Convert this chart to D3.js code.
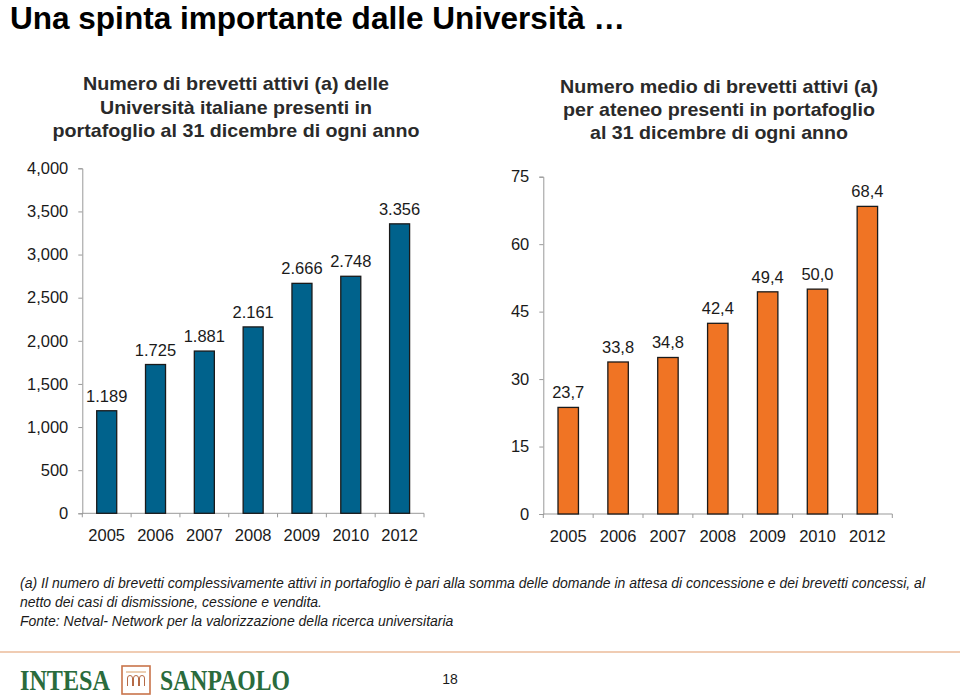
<!DOCTYPE html>
<html><head><meta charset="utf-8">
<script src="https://cdn.jsdelivr.net/npm/d3@7"></script>
<style>
body{margin:0;background:#fff}
svg{display:block}
</style></head>
<body>
<svg id="c" width="960" height="697"></svg>
<script>
const years = ["2005","2006","2007","2008","2009","2010","2012"];
const patents = [1189,1725,1881,2161,2666,2748,3356];
const patentLabels = ["1.189","1.725","1.881","2.161","2.666","2.748","3.356"];
const avgPerUni = [23.7,33.8,34.8,42.4,49.4,50.0,68.4];
const avgLabels = ["23,7","33,8","34,8","42,4","49,4","50,0","68,4"];
const leftTicks = [0,500,1000,1500,2000,2500,3000,3500,4000];
const leftTickLabels = ["0","500","1,000","1,500","2,000","2,500","3,000","3,500","4,000"];
const rightTicks = [0,15,30,45,60,75];
const rightTickLabels = ["0","15","30","45","60","75"];

const svg = d3.select("#c");
const SANS = "'Liberation Sans', Arial, sans-serif";

// Title
svg.append("text").attr("x",10).attr("y",28.5)
  .attr("font-family",SANS).attr("font-weight","bold").attr("font-size",31)
  .attr("textLength",615).attr("lengthAdjust","spacingAndGlyphs")
  .attr("fill","#000").text("Una spinta importante dalle Università …");

// Subtitles
const sub = (cx, ys, lines) => {
  lines.forEach(([l,w],i)=>svg.append("text").attr("x",cx).attr("y",ys[i])
    .attr("text-anchor","middle").attr("font-family",SANS).attr("font-weight","bold").attr("font-size",19)
    .attr("textLength",w).attr("lengthAdjust","spacingAndGlyphs")
    .attr("fill","#2a2a2a").text(l));
};
sub(236, [90,113.5,136.5], [["Numero di brevetti attivi (a) delle",306],["Università italiane presenti in",272],["portafoglio al 31 dicembre di ogni anno",367]]);
sub(719, [92.5,115.5,138.5], [["Numero medio di brevetti attivi (a)",318],["per ateneo presenti in portafoglio",312],["al 31 dicembre di ogni anno",258]]);

function chart(opts){
  const {x0,x1,yTop,yBot,max,ticks,tickLabels,vals,labels,fill} = opts;
  const x = d3.scaleBand().domain(years).range([x0,x1]).paddingInner(0.59).paddingOuter(0.295);
  const y = d3.scaleLinear().domain([0,max]).range([yBot,yTop]);
  const g = svg.append("g");
  const ya = d3.axisLeft(y).tickValues(ticks).tickSize(4).tickFormat((d,i)=>tickLabels[i]);
  const yg = g.append("g").attr("transform",`translate(${x0},0)`).call(ya);
  yg.select(".domain").attr("stroke","#999");
  yg.selectAll(".tick line").attr("stroke","#999");
  yg.selectAll(".tick text").attr("font-family",SANS).attr("font-size",16.5).attr("fill","#1a1a1a").attr("x",-14);
  g.append("line").attr("x1",x0).attr("x2",x1).attr("y1",y(0)).attr("y2",y(0)).attr("stroke","#999");
  const step = x.step(), gap = step - x.bandwidth();
  const bounds = years.map(d=>x(d)-gap/2).concat([x(years[years.length-1])+x.bandwidth()+gap/2]);
  g.selectAll("line.xt").data(bounds).enter().append("line")
    .attr("x1",d=>d).attr("x2",d=>d).attr("y1",y(0)).attr("y2",y(0)+4).attr("stroke","#999");
  g.selectAll("text.xl").data(years).enter().append("text")
    .attr("x",d=>x(d)+x.bandwidth()/2).attr("y",y(0)+28)
    .attr("text-anchor","middle").attr("font-family",SANS).attr("font-size",16.5).attr("fill","#1a1a1a").text(d=>d);
  g.selectAll("rect.b").data(vals).enter().append("rect")
    .attr("x",(d,i)=>x(years[i])).attr("width",x.bandwidth())
    .attr("y",d=>y(d)).attr("height",d=>y(0)-y(d))
    .attr("fill",fill).attr("stroke","#1a1a1a").attr("stroke-width",1.3);
  g.selectAll("text.v").data(vals).enter().append("text")
    .attr("x",(d,i)=>x(years[i])+x.bandwidth()/2).attr("y",d=>y(d)-9)
    .attr("text-anchor","middle").attr("font-family",SANS).attr("font-size",16.5).attr("fill","#1a1a1a")
    .text((d,i)=>labels[i]);
}
chart({x0:82.3,x1:424,yTop:168.3,yBot:513.3,max:4000,ticks:leftTicks,tickLabels:leftTickLabels,vals:patents,labels:patentLabels,fill:"#00628C"});
chart({x0:543.3,x1:892.3,yTop:176.7,yBot:514,max:75,ticks:rightTicks,tickLabels:rightTickLabels,vals:avgPerUni,labels:avgLabels,fill:"#F07424"});

// Footnote
const fn = [
 ["(a) Il numero di brevetti complessivamente attivi in portafoglio è pari alla somma delle domande in attesa di concessione e dei brevetti concessi, al",588],
 ["netto dei casi di dismissione, cessione e vendita.",606.5],
 ["Fonte: Netval- Network per la valorizzazione della ricerca universitaria",626]
];
fn.forEach(([t,y])=>svg.append("text").attr("x",20).attr("y",y).attr("font-family",SANS)
  .attr("font-style","italic").attr("font-size",14).attr("fill","#1a1a1a").text(t));

// Separator line
svg.append("line").attr("x1",0).attr("x2",960).attr("y1",652).attr("y2",652).attr("stroke","#E29A68").attr("stroke-width",1.2);

// Logo
const green = "#2A6B3C";
const SERIF = "'Liberation Serif', 'DejaVu Serif', serif";
svg.append("text").attr("x",20).attr("y",690).attr("font-family",SERIF).attr("font-weight","bold")
  .attr("font-size",29).attr("fill",green).attr("textLength",90).attr("lengthAdjust","spacingAndGlyphs").text("INTESA");
svg.append("text").attr("x",160).attr("y",690).attr("font-family",SERIF).attr("font-weight","bold")
  .attr("font-size",29).attr("fill",green).attr("textLength",130).attr("lengthAdjust","spacingAndGlyphs").text("SANPAOLO");
const lg = svg.append("g").attr("transform","translate(122,666)");
lg.append("rect").attr("x",0).attr("y",0).attr("width",28).attr("height",28).attr("fill","#fff").attr("stroke","#C9744A").attr("stroke-width",1.6);
lg.append("line").attr("x1",4).attr("x2",24).attr("y1",6).attr("y2",6).attr("stroke","#E0B080").attr("stroke-width",1.2);
[0,1,2].forEach(i=>{
  const cx = 8+i*6;
  lg.append("path").attr("d",`M${cx-2.5},20 V12 a2.5,2.5 0 0 1 5,0 V20`).attr("fill","none").attr("stroke","#B56A46").attr("stroke-width",1);
});

svg.append("text").attr("x",450).attr("y",684).attr("text-anchor","middle").attr("font-family",SANS).attr("font-size",14).attr("fill","#1a1a1a").text("18");
</script>
</body></html>
